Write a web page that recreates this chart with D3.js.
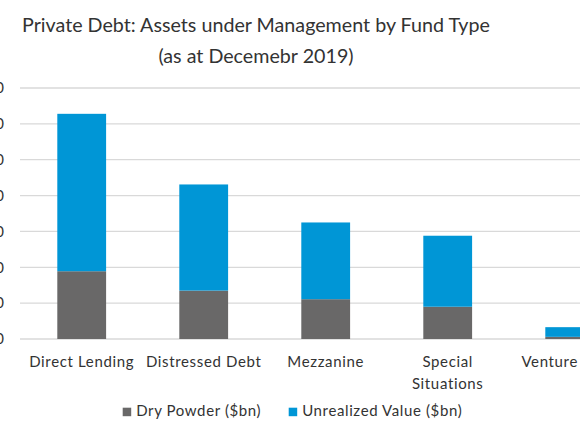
<!DOCTYPE html>
<html><head><meta charset="utf-8">
<script src="https://cdn.jsdelivr.net/npm/d3@7"></script>
<style>
html,body{margin:0;padding:0;background:#fff;}
svg{display:block;font-family:Lato,"Open Sans",sans-serif;}
</style></head>
<body><svg id="c" width="580" height="435"></svg>
<script>
const categories = ["Direct Lending","Distressed Debt","Mezzanine","Special Situations","Venture Debt"];
const categoryLines = [["Direct Lending"],["Distressed Debt"],["Mezzanine"],["Special","Situations"],["Venture Debt"]];
const dryPowder = [94.5, 67.5, 55.5, 45, 3];
const unrealizedValue = [219.5, 148, 107, 99, 13.5];
const yTicks = [0,50,100,150,200,250,300,350];
const seriesNames = ["Dry Powder ($bn)","Unrealized Value ($bn)"];
const colors = ["#696868","#0096d6"];

const svg = d3.select("#c");
const x = d3.scaleBand().domain(categories).range([20.7,630.7]).paddingInner(0.6).paddingOuter(0.3);
const y = d3.scaleLinear().domain([0,350]).range([339,88]);

// gridlines
svg.append("g").selectAll("line").data(yTicks).join("line")
  .attr("x1",20).attr("x2",640)
  .attr("y1",d=>y(d)).attr("y2",d=>y(d))
  .attr("stroke","#d9d9d9").attr("stroke-width",1.3);

// y tick labels (cropped at left edge, as in the reference)
svg.append("g").selectAll("text").data(yTicks).join("text")
  .attr("x",4.5).attr("y",d=>y(d)).attr("dy","0.35em")
  .attr("text-anchor","end").attr("font-size",15).attr("fill","#333")
  .attr("letter-spacing",0.6)
  .text(d=>d);

// stacked data
const rows = categories.map((c,i)=>({cat:c, dry:dryPowder[i], unr:unrealizedValue[i]}));
const stack = d3.stack().keys(["dry","unr"])(rows);
svg.append("g").selectAll("g").data(stack).join("g")
  .attr("fill",(d,i)=>colors[i])
  .selectAll("rect").data(d=>d).join("rect")
  .attr("x",d=>x(d.data.cat)).attr("width",x.bandwidth())
  .attr("y",d=>y(d[1])).attr("height",d=>y(d[0])-y(d[1]));

// category labels
const lab = svg.append("g").selectAll("text").data(categories).join("text")
  .attr("x",d=>x(d)+x.bandwidth()/2).attr("y",366.7)
  .attr("text-anchor","middle").attr("font-size",15).attr("letter-spacing",0.65).attr("fill","#333");
lab.each(function(d,i){
  d3.select(this).selectAll("tspan").data(categoryLines[i]).join("tspan")
    .attr("x",x(d)+x.bandwidth()/2).attr("dy",(t,j)=>j===0?0:22.6).text(t=>t);
});

// title
const title = svg.append("text").attr("x",256).attr("text-anchor","middle")
  .attr("font-size",19.7).attr("fill","#333");
title.append("tspan").attr("x",256).attr("y",31.5).text("Private Debt: Assets under Management by Fund Type");
title.append("tspan").attr("x",256).attr("y",62.5).text("(as at Decemebr 2019)");

// legend
const legX = [122.7, 288.7];
const leg = svg.append("g").selectAll("g").data(seriesNames).join("g");
leg.append("rect").attr("x",(d,i)=>legX[i]).attr("y",407.7).attr("width",8.5).attr("height",8.5)
  .attr("fill",(d,i)=>colors[i]);
leg.append("text").attr("x",(d,i)=>legX[i]+13.5).attr("y",416.2)
  .attr("font-size",15).attr("letter-spacing",0.62).attr("fill","#333").text(d=>d);
</script></body></html>
